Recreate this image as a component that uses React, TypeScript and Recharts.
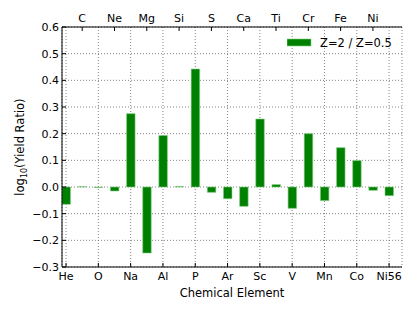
import { BarChart, Bar, XAxis, YAxis, CartesianGrid, Legend } from 'recharts';

const elements = ['He', 'C', 'O', 'Ne', 'Na', 'Mg', 'Al', 'Si', 'P', 'S', 'Ar', 'Ca', 'Sc', 'Ti', 'V', 'Cr', 'Mn', 'Fe', 'Co', 'Ni', 'Ni56'];
const yieldRatio = [-0.065, 0.001, -0.002, -0.015, 0.275, -0.2475, 0.193, 0.002, 0.4425, -0.02, -0.044, -0.0725, 0.255, 0.009, -0.08, 0.2, -0.051, 0.1475, 0.099, -0.0125, -0.0325];
const yTicks = [-0.3, -0.2, -0.1, 0, 0.1, 0.2, 0.3, 0.4, 0.5, 0.6];
const bottomTicks = [0, 2, 4, 6, 8, 10, 12, 14, 16, 18, 20];
const topTicks = [1, 3, 5, 7, 9, 11, 13, 15, 17, 19];

const data = elements.map((el, i) => ({ idx: i, name: el, ratio: yieldRatio[i] }));

const font = 'DejaVu Sans, sans-serif';
const tickStyle = { fill: '#000', fontSize: 11, fontFamily: font };

const fmtY = (v: number) => (v < 0 ? '\u2212' + Math.abs(v).toFixed(1) : v.toFixed(1));

function LegendBox() {
  return (
    <svg width={110} height={16} style={{ display: 'block' }}>
      <rect x={0} y={4} width={24} height={7} fill="#008000" stroke="#7fcf7f" strokeWidth={0.6} />
      <text x={33} y={12} fontSize={11.5} fontFamily={font} fill="#000">Z=2 / Z=0.5</text>
    </svg>
  );
}

export default function App() {
  return (
    <div style={{ position: 'absolute', left: 0, top: 0, width: 415, height: 312, background: '#fff' }}>
      <BarChart width={415} height={312} data={data} margin={{ top: 5, right: 13, bottom: 15, left: 20 }}>
        <XAxis
          xAxisId={0}
          dataKey="idx"
          type="number"
          domain={[-0.25, 20.8]}
          ticks={bottomTicks}
          tickFormatter={(v: number) => elements[v]}
          orientation="bottom"
          height={30}
          stroke="#000"
          tick={tickStyle}
          tickSize={-4}
          tickMargin={9}
          interval={0}
          allowDataOverflow
          label={{
            content: () => (
              <text x={232} y={297} textAnchor="middle" fontSize={11.5} fontFamily={font} fill="#000">
                Chemical Element
              </text>
            ),
          }}
        />
        <XAxis
          xAxisId={1}
          dataKey="idx"
          type="number"
          domain={[-0.25, 20.8]}
          ticks={topTicks}
          tickFormatter={(v: number) => elements[v]}
          orientation="top"
          height={22}
          stroke="#000"
          tick={tickStyle}
          tickSize={-4}
          tickMargin={9}
          interval={0}
          allowDataOverflow
        />
        <YAxis
          yAxisId={0}
          domain={[-0.3, 0.6]}
          ticks={yTicks}
          tickFormatter={fmtY}
          width={42}
          stroke="#000"
          tick={tickStyle}
          tickSize={-4}
          tickMargin={7}
          interval={0}
          allowDataOverflow
          label={{
            content: () => (
              <text
                x={24}
                y={147}
                transform="rotate(-90 24 147)"
                textAnchor="middle"
                fontSize={11.5}
                fontFamily={font}
                fill="#000"
              >
                log<tspan fontSize={8} dy={3}>10</tspan>
                <tspan dy={-3}>(Yield Ratio)</tspan>
              </text>
            ),
          }}
        />
        <YAxis
          yAxisId={1}
          orientation="right"
          domain={[-0.3, 0.6]}
          ticks={yTicks}
          tick={false}
          width={0}
          stroke="#000"
          tickSize={-4}
          interval={0}
          allowDataOverflow
        />
        <CartesianGrid xAxisId={0} yAxisId={0} stroke="#666" strokeDasharray="1 2" strokeWidth={0.8} />
        <Bar
          dataKey="ratio"
          xAxisId={0}
          yAxisId={0}
          fill="#008000"
          stroke="#7fcf7f"
          strokeWidth={0.6}
          barSize={8.5}
          isAnimationActive={false}
          name="Z=2 / Z=0.5"
        />
        <Legend
          layout="horizontal"
          verticalAlign="middle"
          align="center"
          content={() => <LegendBox />}
          wrapperStyle={{ position: 'absolute', left: 287, top: 35, width: 110 }}
        />
      </BarChart>
    </div>
  );
}
